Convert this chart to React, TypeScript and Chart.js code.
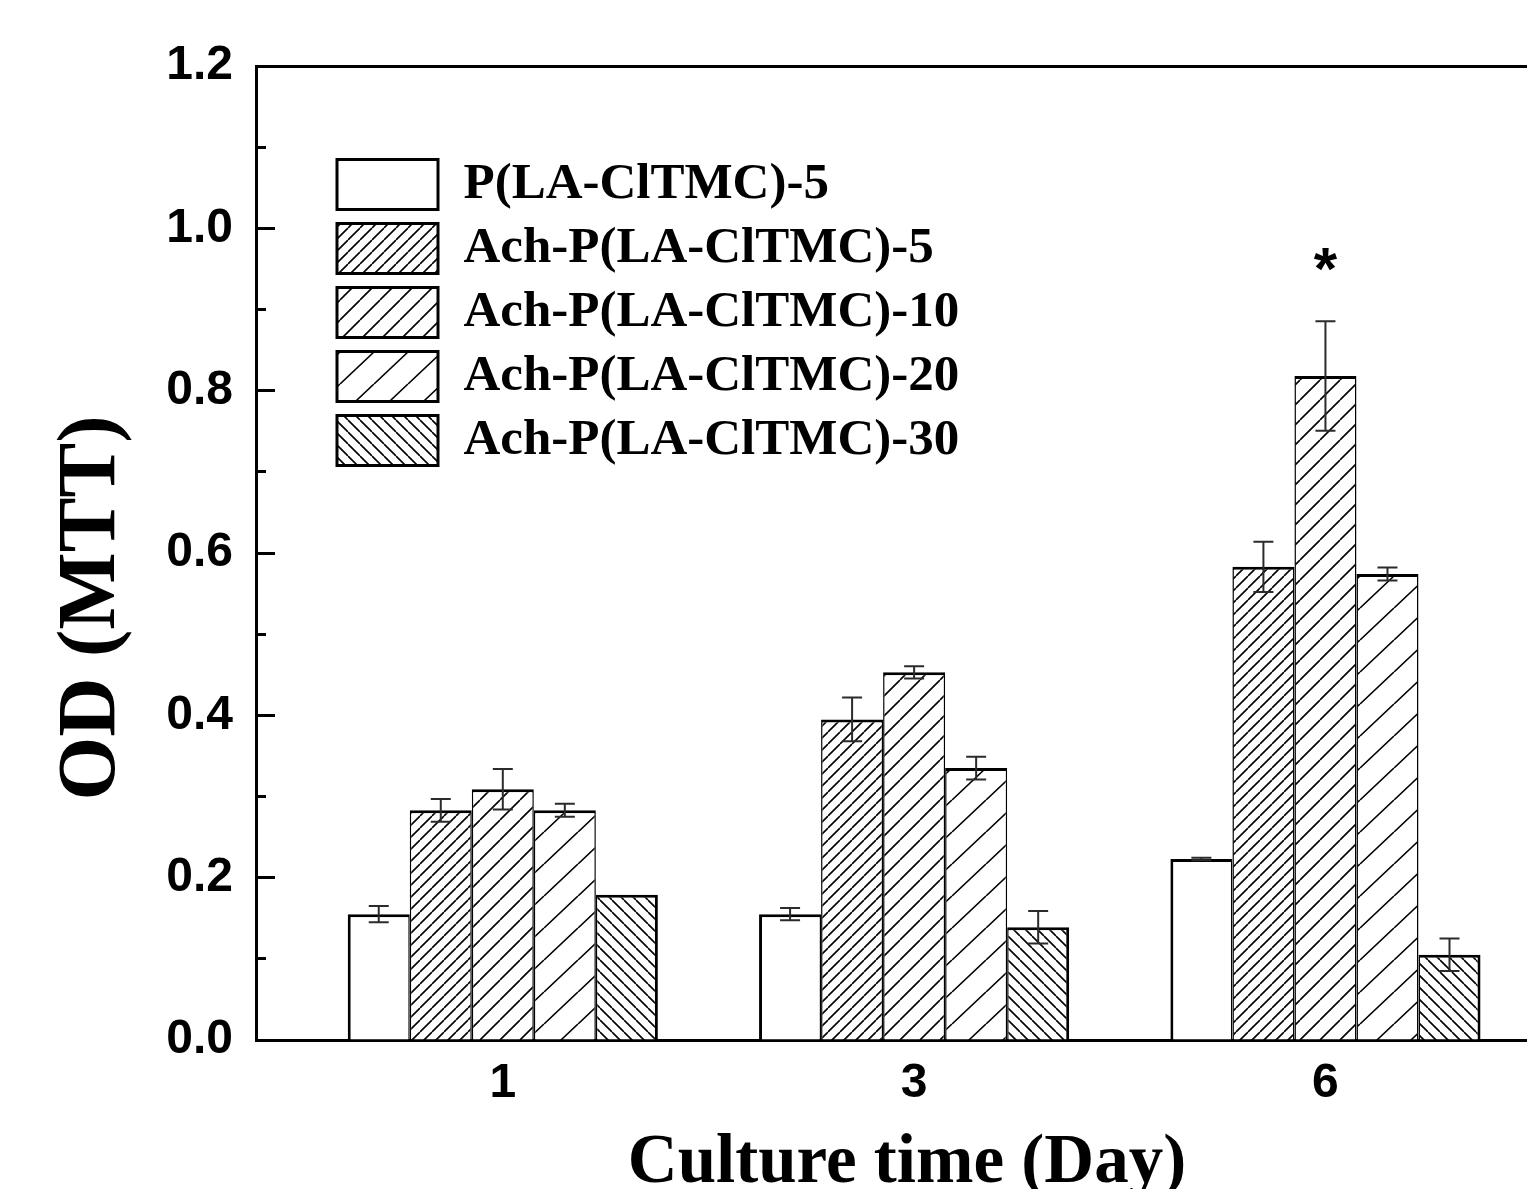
import { useEffect, useRef } from "react";
import { Chart, registerables } from "chart.js";

Chart.register(...registerables);

// ---------- data ----------
const days = ["1", "3", "6"];
const seriesNames = [
  "P(LA-ClTMC)-5",
  "Ach-P(LA-ClTMC)-5",
  "Ach-P(LA-ClTMC)-10",
  "Ach-P(LA-ClTMC)-20",
  "Ach-P(LA-ClTMC)-30",
];
const pla5 = [0.155, 0.155, 0.223];
const ach5 = [0.283, 0.395, 0.583];
const ach10 = [0.309, 0.453, 0.818];
const ach20 = [0.283, 0.335, 0.574];
const ach30 = [0.179, 0.139, 0.105];
const pla5Err = [0.010, 0.0075, 0.0015];
const ach5Err = [0.014, 0.027, 0.031];
const ach10Err = [0.025, 0.0075, 0.0675];
const ach20Err = [0.008, 0.014, 0.008];
const ach30Err = [0, 0.020, 0.020];
const significance = [{ series: 2, day: 2, text: "*" }];
const yTitle = "OD (MTT)";
const xTitle = "Culture time (Day)";

const seriesValues = [pla5, ach5, ach10, ach20, ach30];
const seriesErrors = [pla5Err, ach5Err, ach10Err, ach20Err, ach30Err];

// ---------- styles ----------
const SANS = "'Liberation Sans', Arial, sans-serif";
const SERIF = "'Liberation Serif', 'Times New Roman', serif";
const hatchSpecs: ({ dir: string; w: number; h: number } | null)[] = [
  null,
  { dir: "/", w: 12, h: 12 },
  { dir: "/", w: 20, h: 20 },
  { dir: "/", w: 34, h: 32 },
  { dir: "\\", w: 12, h: 12 },
];

function makeFill(spec: { dir: string; w: number; h: number } | null): any {
  if (!spec) return "#ffffff";
  const c = document.createElement("canvas");
  c.width = spec.w;
  c.height = spec.h;
  const g = c.getContext("2d")!;
  g.fillStyle = "#ffffff";
  g.fillRect(0, 0, spec.w, spec.h);
  g.strokeStyle = "#000000";
  g.lineWidth = 1.6;
  g.beginPath();
  for (let k = -1; k <= 1; k++) {
    if (spec.dir === "/") {
      g.moveTo(k * spec.w, spec.h);
      g.lineTo(k * spec.w + spec.w, 0);
    } else {
      g.moveTo(k * spec.w, 0);
      g.lineTo(k * spec.w + spec.w, spec.h);
    }
  }
  g.stroke();
  return g.createPattern(c, "repeat");
}

const errorBarPlugin = {
  id: "errorBars",
  afterDatasetsDraw(chart: any) {
    const ctx = chart.ctx;
    const ys = chart.scales.y;
    ctx.save();
    ctx.strokeStyle = "#2b2b2b";
    ctx.lineWidth = 2;
    chart.data.datasets.forEach((ds: any, i: number) => {
      const meta = chart.getDatasetMeta(i);
      meta.data.forEach((bar: any, j: number) => {
        const e = seriesErrors[i][j];
        if (!e) return;
        const v = seriesValues[i][j];
        const top = ys.getPixelForValue(v + e);
        const bot = ys.getPixelForValue(v - e);
        const x = bar.x;
        ctx.beginPath();
        ctx.moveTo(x, top);
        ctx.lineTo(x, bot);
        ctx.moveTo(x - 10, top);
        ctx.lineTo(x + 10, top);
        ctx.moveTo(x - 10, bot);
        ctx.lineTo(x + 10, bot);
        ctx.stroke();
      });
    });
    // significance marks
    ctx.fillStyle = "#000";
    ctx.font = `bold 60px ${SANS}`;
    ctx.textAlign = "center";
    ctx.textBaseline = "alphabetic";
    significance.forEach((s) => {
      const bar = chart.getDatasetMeta(s.series).data[s.day];
      const v = seriesValues[s.series][s.day] + seriesErrors[s.series][s.day];
      ctx.fillText(s.text, bar.x, ys.getPixelForValue(v) - 32);
    });
    ctx.restore();
  },
};

const titlesPlugin = {
  id: "axisTitles",
  afterDraw(chart: any) {
    const ctx = chart.ctx;
    const a = chart.chartArea;
    ctx.save();
    ctx.fillStyle = "#000";
    ctx.font = `bold 82px ${SERIF}`;
    ctx.textAlign = "center";
    ctx.textBaseline = "middle";
    ctx.translate(a.left - 163, (a.top + a.bottom) / 2 + 55);
    ctx.rotate(-Math.PI / 2);
    ctx.fillText(yTitle, 0, 0);
    ctx.restore();
    ctx.save();
    ctx.fillStyle = "#000";
    ctx.font = `bold 69px ${SERIF}`;
    ctx.textAlign = "center";
    ctx.textBaseline = "alphabetic";
    ctx.fillText(xTitle, 907, a.bottom + 142);
    ctx.restore();
  },
};

const legendPlacePlugin = {
  id: "legendPlace",
  afterLayout(chart: any) {
    const lg = chart.legend;
    if (!lg) return;
    const pad = lg.options.labels.padding;
    const a = chart.chartArea;
    lg.left = a.left + 81 - pad;
    lg.top = a.top + 93 - pad;
    lg.right = lg.left + lg.width;
    lg.bottom = lg.top + lg.height;
  },
};

export default function App() {
  const ref = useRef<HTMLCanvasElement>(null);
  useEffect(() => {
    const canvas = ref.current!;
    const n = seriesNames.length;
    const datasets = seriesNames.map((name, i) => ({
      label: name,
      data: seriesValues[i].map((v, j) => ({ x: j, y: v })),
      backgroundColor: makeFill(hatchSpecs[i]),
      borderColor: "#000000",
      borderWidth: {
        top: 3,
        bottom: 0,
        left: i === 0 ? 3 : 1.5,
        right: i === n - 1 ? 3 : 1.5,
      },
      borderSkipped: "bottom",
      categoryPercentage: 0.754,
      barPercentage: 1,
    }));

    const chart = new Chart(canvas, {
      type: "bar",
      data: { datasets: datasets as any },
      plugins: [legendPlacePlugin, errorBarPlugin, titlesPlugin],
      options: {
        responsive: false,
        devicePixelRatio: 1,
        animation: false,
        layout: { padding: { top: 66, left: 0, right: 0, bottom: 0 } },
        plugins: {
          tooltip: { enabled: false },
          title: { display: false },
          legend: {
            position: "chartArea",
            align: "start",
            labels: {
              boxWidth: 101,
              boxHeight: 50,
              padding: 13,
              color: "#000",
              font: { family: SERIF, size: 51, weight: "bold" },
              generateLabels: (c: any) =>
                (Chart.defaults.plugins.legend.labels.generateLabels as any)(c).map((l: any) => ({
                  ...l,
                  lineWidth: 3,
                  strokeStyle: "#000",
                })),
            },
          },
        } as any,
        scales: {
          x: {
            type: "linear",
            position: "bottom",
            min: -0.6,
            max: 2.49,
            offset: false,
            grid: { display: false, drawTicks: false },
            border: { display: true, color: "#000", width: 3 },
            afterBuildTicks: (s: any) => {
              s.ticks = days.map((_, i) => ({ value: i }));
            },
            ticks: {
              callback: (_v: any, i: number) => days[i],
              color: "#000",
              padding: 15,
              autoSkip: false,
              maxRotation: 0,
              font: { family: SANS, size: 48, weight: "bold" },
            },
            afterFit: (s: any) => {
              s.height = 149;
              s.paddingLeft = 0;
              s.paddingRight = 0;
            },
          },
          x2: {
            type: "linear",
            position: "top",
            min: 0,
            max: 1,
            grid: { display: false, drawTicks: false },
            ticks: { display: false },
            border: { display: true, color: "#000", width: 3 },
            afterFit: (s: any) => {
              s.height = 0;
            },
          },
          y: {
            type: "linear",
            position: "left",
            weight: 1,
            min: 0,
            max: 1.2,
            ticks: {
              stepSize: 0.2,
              callback: (v: any) => Number(v).toFixed(1),
              color: "#000",
              padding: 42,
              font: { family: SANS, size: 48, weight: "bold" },
            },
            grid: {
              display: true,
              drawOnChartArea: false,
              drawTicks: true,
              tickLength: -19,
              tickWidth: 3,
              tickColor: "#000",
            },
            border: { display: true, color: "#000", width: 3 },
            afterFit: (s: any) => {
              s.width = 256;
              s.paddingTop = 0;
              s.paddingBottom = 0;
            },
          },
          yMinor: {
            type: "linear",
            position: "left",
            weight: 0,
            min: 0,
            max: 1.2,
            ticks: { stepSize: 0.1, display: false },
            grid: {
              display: true,
              drawOnChartArea: false,
              drawTicks: true,
              tickLength: -10,
              tickWidth: 3,
              tickColor: "#000",
            },
            border: { display: false },
            afterFit: (s: any) => {
              s.width = 0;
              s.paddingTop = 0;
              s.paddingBottom = 0;
            },
          },
        } as any,
      },
    });
    return () => chart.destroy();
  }, []);

  return (
    <div style={{ position: "absolute", left: 0, top: 0, width: 1527, height: 1189, background: "#fff" }}>
      <canvas ref={ref} width={1527} height={1189} style={{ display: "block" }} />
    </div>
  );
}
